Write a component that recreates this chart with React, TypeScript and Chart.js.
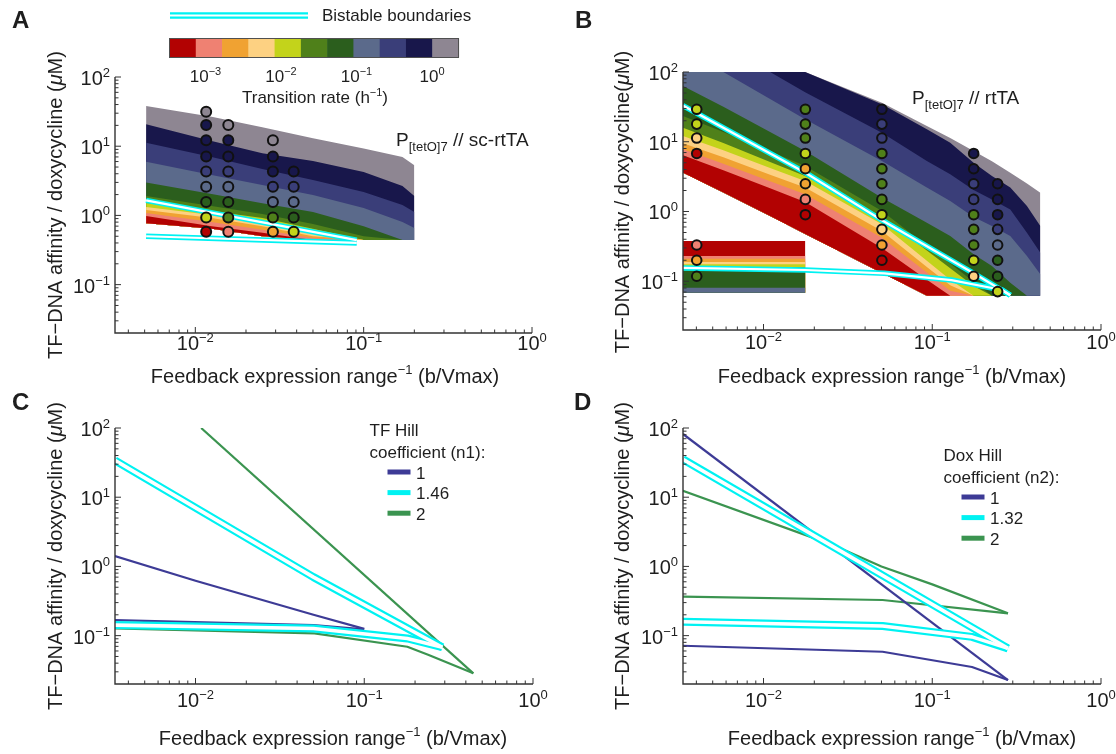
import React, { useEffect, useRef } from 'react';
import { Chart, registerables } from 'chart.js';

Chart.register(...registerables);

const W = 1116;
const H = 754;
const FONT = '"Liberation Sans", Arial, Helvetica, sans-serif';
const INK = '#1e1e1e';
const AXIS = '#333333';
const CYAN = '#00f2f2';
const LINE_NAVY = '#3d3b96';
const LINE_GREEN = '#3b9450';

// ---------- shared axis ranges / tick decades ----------
const X_MIN = 1 / 300;
const X_MAX = 1;
const Y_MIN = 0.02;
const Y_MAX = 100;
const X_TICK_EXPONENTS = [-2, -1, 0];
const Y_TICK_EXPONENTS = [-1, 0, 1, 2];

// ---------- transition-rate colour scale (slow -> fast) ----------
const RATE_NAMES = ['red', 'salmon', 'orange', 'lorange', 'ygreen', 'green', 'dgreen', 'slate', 'navy', 'dnavy', 'gray'];
const RATE_COLORS: Record<string, string> = {
  red: '#b20202',
  salmon: '#ef8172',
  orange: '#f0a232',
  lorange: '#fdd182',
  ygreen: '#c3d31b',
  green: '#4f801a',
  dgreen: '#2b5e1d',
  slate: '#5b6a8b',
  navy: '#3a3e79',
  dnavy: '#18174b',
  gray: '#8e8692',
};
const COLORBAR_EXPONENTS = [-3, -2, -1, 0];

// ---------- Panel A : P[tetO]7 // sc-rtTA ----------
const A_X = [0.0051, 0.0125, 0.025, 0.05, 0.1, 0.17, 0.2];
const A_EDGE_FLOOR = [0.77, 0.64, 0.5, 0.44, 0.44, 0.44, 0.44];
const A_TOP_RED = [0.98, 0.7, 0.56, 0.44, 0.44, 0.44, 0.44];
const A_TOP_SALMON = [1.08, 0.8, 0.62, 0.47, 0.44, 0.44, 0.44];
const A_TOP_ORANGE = [1.2, 0.92, 0.7, 0.5, 0.44, 0.44, 0.44];
const A_TOP_LORANGE = [1.32, 1.01, 0.8, 0.56, 0.44, 0.44, 0.44];
const A_TOP_YGREEN = [1.51, 1.16, 0.92, 0.64, 0.44, 0.44, 0.44];
const A_TOP_GREEN = [1.91, 1.37, 1.05, 0.75, 0.5, 0.44, 0.44];
const A_TOP_DGREEN = [3.0, 2.04, 1.5, 1.12, 0.7, 0.44, 0.44];
const A_TOP_SLATE = [5.97, 3.84, 2.75, 1.97, 1.28, 0.8, 0.66];
const A_TOP_NAVY = [11.2, 6.98, 4.69, 3.25, 2.18, 1.41, 1.12];
const A_TOP_DNAVY = [20.7, 11.9, 7.9, 6.1, 4.24, 2.66, 1.91];
const A_TOP_GRAY = [38.1, 26.6, 18.8, 13.0, 9.3, 7.0, 5.3];

const A_BIST_X = [0.0051, 0.091];
const A_BIST_UPPER = [1.65, 0.44];
const A_BIST_LOWER = [0.5, 0.4];

const A_DOX = [31.5, 20.2, 12.2, 7.1, 4.3, 2.6, 1.56, 0.93, 0.58];
const A_COL_X = [0.0116, 0.0157, 0.0289, 0.0384];
const A_COL1 = ['gray', 'dnavy', 'dnavy', 'dnavy', 'navy', 'slate', 'dgreen', 'ygreen', 'red'];
const A_COL2 = ['gray', 'dnavy', 'dnavy', 'navy', 'slate', 'dgreen', 'green', 'salmon'];
const A_COL3 = ['gray', 'dnavy', 'dnavy', 'navy', 'slate', 'green', 'orange'];
const A_COL4 = ['dnavy', 'navy', 'slate', 'dgreen', 'ygreen'];

// ---------- Panel B : P[tetO]7 // rtTA ----------
const B_X = [0.00333, 0.00578, 0.01094, 0.01765, 0.0503, 0.0929, 0.1278, 0.1758, 0.2258, 0.29, 0.364, 0.437];
const B_EDGE_FLOOR = [3.6, 1.88, 0.862, 0.476, 0.131, 0.062, 0.062, 0.062, 0.062, 0.062, 0.062, 0.062];
const B_TOP_RED = [6.39, 3.89, 2.15, 1.37, 0.3, 0.105, 0.062, 0.062, 0.062, 0.062, 0.062, 0.062];
const B_TOP_SALMON = [7.79, 4.85, 2.71, 1.76, 0.422, 0.133, 0.0733, 0.062, 0.062, 0.062, 0.062, 0.062];
const B_TOP_ORANGE = [9.49, 5.98, 3.37, 2.2, 0.525, 0.16, 0.0874, 0.062, 0.062, 0.062, 0.062, 0.062];
const B_TOP_LORANGE = [12.1, 7.53, 4.2, 2.74, 0.655, 0.197, 0.105, 0.062, 0.062, 0.062, 0.062, 0.062];
const B_TOP_YGREEN = [15.9, 9.6, 5.13, 3.23, 0.843, 0.275, 0.153, 0.0855, 0.062, 0.062, 0.062, 0.062];
const B_TOP_GREEN = [23.4, 13.8, 7.29, 4.49, 1.02, 0.324, 0.179, 0.0987, 0.062, 0.062, 0.062, 0.062];
const B_TOP_DGREEN = [63.0, 31.8, 13.8, 7.37, 1.58, 0.692, 0.445, 0.243, 0.165, 0.0954, 0.062, 0.062];
const B_TOP_SLATE = [100, 100, 41.0, 21.0, 5.3, 2.2, 1.41, 0.834, 0.62, 0.445, 0.23, 0.126];
const B_TOP_NAVY = [100, 100, 100, 51.1, 13.5, 5.3, 3.41, 2.03, 1.49, 1.07, 0.497, 0.257];
const B_TOP_DNAVY = [100, 100, 100, 100, 34.4, 15.1, 9.7, 5.01, 3.23, 2.2, 1.2, 0.62];
const B_TOP_GRAY = [100, 100, 100, 100, 36.3, 16.8, 11.3, 7.37, 5.24, 3.6, 2.51, 1.86];

const B_RECT_X = [0.00333, 0.0177];
const B_RECT_EDGES = [0.0686, 0.081, 0.14, 0.16, 0.175, 0.189, 0.211, 0.23, 0.378];
const B_RECT_NAMES = ['slate', 'dgreen', 'green', 'ygreen', 'lorange', 'orange', 'salmon', 'red'];

const B_BIST_UPPER_X = [0.00333, 0.0177, 0.0503, 0.176, 0.29];
const B_BIST_UPPER_Y = [33, 3.6, 0.75, 0.13, 0.063];
const B_BIST_LOWER_X = [0.00333, 0.0177, 0.052, 0.13, 0.26, 0.29];
const B_BIST_LOWER_Y = [0.155, 0.145, 0.13, 0.104, 0.075, 0.063];

const B_COL_X = [0.00402, 0.0177, 0.0503, 0.176, 0.244];
const B_COL1_Y = [29.2, 17.9, 11.3, 6.8, 0.331, 0.2, 0.118];
const B_COL1 = ['ygreen', 'ygreen', 'lorange', 'red', 'salmon', 'orange', 'green'];
const B_COL2_Y = [29.2, 17.9, 11.3, 6.8, 4.1, 2.5, 1.49, 0.9];
const B_COL2 = ['green', 'green', 'green', 'ygreen', 'orange', 'orange', 'salmon', 'red'];
const B_COL3_Y = [29.2, 17.9, 11.3, 6.8, 4.1, 2.5, 1.49, 0.9, 0.555, 0.331, 0.2];
const B_COL3 = ['dnavy', 'navy', 'navy', 'green', 'green', 'green', 'green', 'ygreen', 'lorange', 'orange', 'red'];
const B_COL4_Y = [6.8, 4.1, 2.5, 1.49, 0.9, 0.555, 0.331, 0.2, 0.118];
const B_COL4 = ['dnavy', 'dnavy', 'navy', 'navy', 'green', 'green', 'green', 'ygreen', 'lorange'];
const B_COL5_Y = [2.5, 1.49, 0.9, 0.555, 0.331, 0.2, 0.118, 0.071];
const B_COL5 = ['dnavy', 'dnavy', 'dnavy', 'navy', 'slate', 'dgreen', 'dgreen', 'ygreen'];

// ---------- Panel C : TF Hill coefficient ----------
const C_LEGEND_LABELS = ['1', '1.46', '2'];
const C_N1_UP_X = [0.00333, 0.01, 0.05, 0.1];
const C_N1_UP_Y = [1.41, 0.62, 0.2, 0.125];
const C_N1_LO_X = [0.00333, 0.05, 0.1];
const C_N1_LO_Y = [0.168, 0.142, 0.123];
const C_N146_UP_X = [0.00333, 0.05, 0.29];
const C_N146_UP_Y = [34, 0.7, 0.068];
const C_N146_LO_X = [0.00333, 0.05, 0.18, 0.29];
const C_N146_LO_Y = [0.142, 0.127, 0.091, 0.068];
const C_N2_UP_X = [0.0108, 0.443];
const C_N2_UP_Y = [100, 0.0285];
const C_N2_LO_X = [0.00333, 0.0507, 0.18, 0.241, 0.443];
const C_N2_LO_Y = [0.127, 0.108, 0.069, 0.0525, 0.0285];

// ---------- Panel D : Dox Hill coefficient ----------
const D_LEGEND_LABELS = ['1', '1.32', '2'];
const D_N1_UP_X = [0.00333, 0.281];
const D_N1_UP_Y = [82, 0.0228];
const D_N1_LO_X = [0.00333, 0.0508, 0.172, 0.281];
const D_N1_LO_Y = [0.0714, 0.0585, 0.0352, 0.0228];
const D_N132_UP_X = [0.00333, 0.281];
const D_N132_UP_Y = [35.3, 0.0655];
const D_N132_LO_X = [0.00333, 0.0508, 0.172, 0.281];
const D_N132_LO_Y = [0.159, 0.138, 0.096, 0.0655];
const D_N2_UP_X = [0.00333, 0.025, 0.05, 0.1, 0.281];
const D_N2_UP_Y = [12.4, 2.1, 1.0, 0.55, 0.21];
const D_N2_LO_X = [0.00333, 0.0508, 0.281];
const D_N2_LO_Y = [0.365, 0.327, 0.21];

// ---------- helpers ----------
const pts = (xs: number[], ys: number[]) => xs.map((x, i) => ({ x, y: ys[i] }));

function bandSets(xs: number[], edges: number[][], names: string[]) {
  // edges[0] is the lower edge of the region; edges[i] is the upper edge of band names[i-1]
  return edges.map((e, i) => ({
    data: pts(xs, e),
    borderWidth: 0,
    borderColor: 'rgba(0,0,0,0)',
    backgroundColor: i === 0 ? 'rgba(0,0,0,0)' : RATE_COLORS[names[i - 1]],
    fill: i === 0 ? false : '-' + i,
    pointRadius: 0,
    tension: 0,
    order: 30,
  }));
}

function bistable(xs: number[], ys: number[], wide: number, narrow: number) {
  return [
    { data: pts(xs, ys), borderColor: '#ffffff', borderWidth: narrow, pointRadius: 0, fill: false, tension: 0, order: 2, borderJoinStyle: 'round' },
    { data: pts(xs, ys), borderColor: CYAN, borderWidth: wide, pointRadius: 0, fill: false, tension: 0, order: 3, borderJoinStyle: 'round' },
  ];
}

function curve(xs: number[], ys: number[], color: string) {
  return { data: pts(xs, ys), borderColor: color, borderWidth: 2.2, pointRadius: 0, fill: false, tension: 0, order: 5, borderJoinStyle: 'round' };
}

function dots(x: number, ys: number[], names: string[], r: number) {
  return {
    data: ys.map((y) => ({ x, y })),
    showLine: false,
    borderWidth: 0,
    pointRadius: r,
    pointBorderWidth: 2,
    pointBorderColor: '#111111',
    pointBackgroundColor: names.map((n) => RATE_COLORS[n]),
    fill: false,
    order: 0,
  };
}

type Part = { t: string; size: number; dy?: number; italic?: boolean; bold?: boolean };
const fontOf = (p: Part) => `${p.italic ? 'italic ' : ''}${p.bold ? 'bold ' : ''}${p.size}px ${FONT}`;

function rich(ctx: CanvasRenderingContext2D, parts: Part[], x: number, y: number, align: 'left' | 'center' | 'right') {
  let w = 0;
  for (const p of parts) {
    ctx.font = fontOf(p);
    w += ctx.measureText(p.t).width;
  }
  let cx = align === 'left' ? x : align === 'center' ? x - w / 2 : x - w;
  ctx.textAlign = 'left';
  ctx.textBaseline = 'alphabetic';
  for (const p of parts) {
    ctx.font = fontOf(p);
    ctx.fillText(p.t, cx, y + (p.dy || 0));
    cx += ctx.measureText(p.t).width;
  }
}

const expText = (e: number) => (e < 0 ? '\u2212' + -e : String(e));
const pow10 = (e: number, big: number, small: number, raise: number): Part[] => [
  { t: '10', size: big },
  { t: expText(e), size: small, dy: -raise },
];

interface Frame {
  letter: string;
  letterX: number;
  letterY: number;
  yTitleX: number;
  yTitleY: number;
  yLead: string;
  xTitleX: number;
  xTitleY: number;
  xLabelDy: number;
}

function drawFrame(chart: any, f: Frame) {
  const { ctx, chartArea: a } = chart;
  const xs = chart.scales.x;
  const ys = chart.scales.y;
  ctx.save();
  ctx.strokeStyle = AXIS;
  ctx.lineWidth = 1.4;
  ctx.beginPath();
  ctx.moveTo(a.left, a.top);
  ctx.lineTo(a.left, a.bottom);
  ctx.lineTo(a.right, a.bottom);
  ctx.stroke();

  ctx.lineWidth = 1;
  ctx.beginPath();
  for (let e = -3; e <= 0; e++) {
    for (let m = 1; m <= 9; m++) {
      const v = m * Math.pow(10, e);
      if (v < X_MIN * 1.0001 || v > X_MAX * 1.0001) continue;
      const px = xs.getPixelForValue(v);
      const len = m === 1 ? 6 : 3.5;
      ctx.moveTo(px, a.bottom);
      ctx.lineTo(px, a.bottom - len);
    }
  }
  for (let e = -2; e <= 2; e++) {
    for (let m = 1; m <= 9; m++) {
      const v = m * Math.pow(10, e);
      if (v < Y_MIN * 1.0001 || v > Y_MAX * 1.0001) continue;
      const py = ys.getPixelForValue(v);
      const len = m === 1 ? 6 : 3.5;
      ctx.moveTo(a.left, py);
      ctx.lineTo(a.left + len, py);
    }
  }
  ctx.stroke();

  ctx.fillStyle = INK;
  for (const e of X_TICK_EXPONENTS) {
    rich(ctx, pow10(e, 20, 13, 8), xs.getPixelForValue(Math.pow(10, e)), a.bottom + f.xLabelDy, 'center');
  }
  for (const e of Y_TICK_EXPONENTS) {
    rich(ctx, pow10(e, 20, 13, 8), a.left - 5, ys.getPixelForValue(Math.pow(10, e)) + 8, 'right');
  }

  rich(ctx, [{ t: f.letter, size: 24, bold: true }], f.letterX, f.letterY, 'left');

  rich(
    ctx,
    [
      { t: 'Feedback expression range', size: 20 },
      { t: '\u22121', size: 13, dy: -9 },
      { t: ' (b/Vmax)', size: 20 },
    ],
    f.xTitleX,
    f.xTitleY,
    'center'
  );

  ctx.save();
  ctx.translate(f.yTitleX, f.yTitleY);
  ctx.rotate(-Math.PI / 2);
  rich(
    ctx,
    [
      { t: f.yLead, size: 20 },
      { t: '\u03bc', size: 20, italic: true },
      { t: 'M)', size: 20 },
    ],
    0,
    7,
    'center'
  );
  ctx.restore();
  ctx.restore();
}

function hline(ctx: CanvasRenderingContext2D, x1: number, x2: number, y: number, color: string, w: number) {
  ctx.strokeStyle = color;
  ctx.lineWidth = w;
  ctx.lineCap = 'butt';
  ctx.beginPath();
  ctx.moveTo(x1, y);
  ctx.lineTo(x2, y);
  ctx.stroke();
}

function drawLegend(ctx: CanvasRenderingContext2D, x: number, y: number, title: string, sub: string, labels: string[]) {
  const colors = [LINE_NAVY, CYAN, LINE_GREEN];
  ctx.fillStyle = INK;
  rich(ctx, [{ t: title, size: 17 }], x, y + 6, 'left');
  rich(ctx, [{ t: sub, size: 17 }], x, y + 27.5, 'left');
  labels.forEach((lab, i) => {
    const ry = y + 42 + i * 20.6;
    hline(ctx, x + 18, x + 41, ry, colors[i], 5);
    ctx.fillStyle = INK;
    rich(ctx, [{ t: lab, size: 17 }], x + 46.5, ry + 6.5, 'left');
  });
}

function extrasA(chart: any) {
  const ctx: CanvasRenderingContext2D = chart.ctx;
  ctx.save();
  hline(ctx, 170, 308, 15.5, CYAN, 6.5);
  hline(ctx, 170, 308, 15.5, '#ffffff', 2);
  ctx.fillStyle = INK;
  rich(ctx, [{ t: 'Bistable boundaries', size: 17 }], 322, 20.5, 'left');

  const cbL = 169.5;
  const cbR = 458.5;
  const cbT = 38.5;
  const cbB = 57.5;
  const cw = (cbR - cbL) / RATE_NAMES.length;
  RATE_NAMES.forEach((n, i) => {
    ctx.fillStyle = RATE_COLORS[n];
    ctx.fillRect(cbL + i * cw, cbT, cw + 0.6, cbB - cbT);
  });
  ctx.strokeStyle = '#505050';
  ctx.lineWidth = 1;
  ctx.strokeRect(cbL, cbT, cbR - cbL, cbB - cbT);
  ctx.fillStyle = INK;
  COLORBAR_EXPONENTS.forEach((e) => rich(ctx, pow10(e, 17, 11, 7), 432 + 75.5 * e, 82, 'center'));
  rich(
    ctx,
    [
      { t: 'Transition rate (h', size: 17 },
      { t: '\u22121', size: 11, dy: -7 },
      { t: ')', size: 17 },
    ],
    315,
    102.5,
    'center'
  );
  rich(
    ctx,
    [
      { t: 'P', size: 19 },
      { t: '[tetO]7', size: 13, dy: 5 },
      { t: ' // sc-rtTA', size: 19 },
    ],
    396,
    145.5,
    'left'
  );
  ctx.restore();
}

function extrasB(chart: any) {
  const ctx: CanvasRenderingContext2D = chart.ctx;
  ctx.save();
  ctx.fillStyle = INK;
  rich(
    ctx,
    [
      { t: 'P', size: 19 },
      { t: '[tetO]7', size: 13, dy: 5 },
      { t: ' // rtTA', size: 19 },
    ],
    912,
    104,
    'left'
  );
  ctx.restore();
}

function extrasC(chart: any) {
  const ctx: CanvasRenderingContext2D = chart.ctx;
  ctx.save();
  drawLegend(ctx, 369.5, 430, 'TF Hill', 'coefficient (n1):', C_LEGEND_LABELS);
  ctx.restore();
}

function extrasD(chart: any) {
  const ctx: CanvasRenderingContext2D = chart.ctx;
  ctx.save();
  drawLegend(ctx, 943.5, 455, 'Dox Hill', 'coefficient (n2):', D_LEGEND_LABELS);
  ctx.restore();
}

type Area = { l: number; t: number; r: number; b: number };

function makeConfig(area: Area, datasets: any[], frame: Frame, extras: (c: any) => void) {
  return {
    type: 'line',
    data: { datasets },
    options: {
      responsive: false,
      maintainAspectRatio: false,
      animation: false,
      devicePixelRatio: 1,
      events: [],
      layout: { padding: { left: area.l, top: area.t, right: W - area.r, bottom: H - area.b } },
      scales: {
        x: { type: 'logarithmic', min: X_MIN, max: X_MAX, display: false },
        y: { type: 'logarithmic', min: Y_MIN, max: Y_MAX, display: false },
      },
      plugins: { legend: { display: false }, tooltip: { enabled: false }, title: { display: false } },
    },
    plugins: [
      {
        id: 'decor',
        afterDraw: (chart: any) => {
          drawFrame(chart, frame);
          extras(chart);
        },
      },
    ],
  };
}

// ---------- dataset assembly ----------
const A_SETS = [
  ...A_COL_X.map((x, i) => dots(x, [A_DOX, A_DOX.slice(1), A_DOX.slice(2), A_DOX.slice(4)][i], [A_COL1, A_COL2, A_COL3, A_COL4][i], 5)),
  ...bistable(A_BIST_X, A_BIST_UPPER, 5.5, 2.2),
  ...bistable(A_BIST_X, A_BIST_LOWER, 5.5, 2.2),
  ...bandSets(
    A_X,
    [A_EDGE_FLOOR, A_TOP_RED, A_TOP_SALMON, A_TOP_ORANGE, A_TOP_LORANGE, A_TOP_YGREEN, A_TOP_GREEN, A_TOP_DGREEN, A_TOP_SLATE, A_TOP_NAVY, A_TOP_DNAVY, A_TOP_GRAY],
    RATE_NAMES
  ),
];

const B_SETS = [
  dots(B_COL_X[0], B_COL1_Y, B_COL1, 4.8),
  dots(B_COL_X[1], B_COL2_Y, B_COL2, 4.8),
  dots(B_COL_X[2], B_COL3_Y, B_COL3, 4.8),
  dots(B_COL_X[3], B_COL4_Y, B_COL4, 4.8),
  dots(B_COL_X[4], B_COL5_Y, B_COL5, 4.8),
  ...bistable(B_BIST_UPPER_X, B_BIST_UPPER_Y, 5.5, 2.2),
  ...bistable(B_BIST_LOWER_X, B_BIST_LOWER_Y, 5.5, 2.2),
  ...bandSets(
    B_X,
    [B_EDGE_FLOOR, B_TOP_RED, B_TOP_SALMON, B_TOP_ORANGE, B_TOP_LORANGE, B_TOP_YGREEN, B_TOP_GREEN, B_TOP_DGREEN, B_TOP_SLATE, B_TOP_NAVY, B_TOP_DNAVY, B_TOP_GRAY],
    RATE_NAMES
  ),
  ...bandSets(B_RECT_X, B_RECT_EDGES.map((e) => [e, e]), B_RECT_NAMES),
];

const C_SETS = [
  curve(C_N1_UP_X, C_N1_UP_Y, LINE_NAVY),
  curve(C_N1_LO_X, C_N1_LO_Y, LINE_NAVY),
  curve(C_N2_UP_X, C_N2_UP_Y, LINE_GREEN),
  curve(C_N2_LO_X, C_N2_LO_Y, LINE_GREEN),
  ...bistable(C_N146_UP_X, C_N146_UP_Y, 8, 3.6),
  ...bistable(C_N146_LO_X, C_N146_LO_Y, 8, 3.6),
];

const D_SETS = [
  curve(D_N1_UP_X, D_N1_UP_Y, LINE_NAVY),
  curve(D_N1_LO_X, D_N1_LO_Y, LINE_NAVY),
  curve(D_N2_UP_X, D_N2_UP_Y, LINE_GREEN),
  curve(D_N2_LO_X, D_N2_LO_Y, LINE_GREEN),
  ...bistable(D_N132_UP_X, D_N132_UP_Y, 8, 3.6),
  ...bistable(D_N132_LO_X, D_N132_LO_Y, 8, 3.6),
];

const PANELS = [
  makeConfig(
    { l: 115, t: 77, r: 532, b: 333 },
    A_SETS,
    { letter: 'A', letterX: 12, letterY: 28, yTitleX: 55, yTitleY: 205, yLead: 'TF\u2212DNA affinity / doxycycline (', xTitleX: 325, xTitleY: 383, xLabelDy: 17 },
    extrasA
  ),
  makeConfig(
    { l: 683, t: 72, r: 1101, b: 330 },
    B_SETS,
    { letter: 'B', letterX: 575, letterY: 28, yTitleX: 622, yTitleY: 202, yLead: 'TF\u2212DNA affinity / doxycycline(', xTitleX: 892, xTitleY: 383, xLabelDy: 19 },
    extrasB
  ),
  makeConfig(
    { l: 115, t: 428, r: 533, b: 684 },
    C_SETS,
    { letter: 'C', letterX: 12, letterY: 410, yTitleX: 55, yTitleY: 556, yLead: 'TF\u2212DNA affinity / doxycycline (', xTitleX: 333, xTitleY: 745, xLabelDy: 23 },
    extrasC
  ),
  makeConfig(
    { l: 683, t: 428, r: 1101, b: 684 },
    D_SETS,
    { letter: 'D', letterX: 574, letterY: 410, yTitleX: 622, yTitleY: 556, yLead: 'TF\u2212DNA affinity / doxycycline (', xTitleX: 902, xTitleY: 745, xLabelDy: 23 },
    extrasD
  ),
];

function Panel({ config }: { config: any }) {
  const ref = useRef<HTMLCanvasElement>(null);
  useEffect(() => {
    if (!ref.current) return;
    const chart = new Chart(ref.current, config);
    return () => chart.destroy();
  }, [config]);
  return (
    <canvas
      ref={ref}
      width={W}
      height={H}
      style={{ position: 'absolute', left: 0, top: 0, width: W, height: H, pointerEvents: 'none' }}
    />
  );
}

export default function App() {
  return (
    <div style={{ position: 'absolute', left: 0, top: 0, width: W, height: H, background: '#ffffff', overflow: 'hidden' }}>
      {PANELS.map((cfg, i) => (
        <Panel key={i} config={cfg} />
      ))}
    </div>
  );
}
